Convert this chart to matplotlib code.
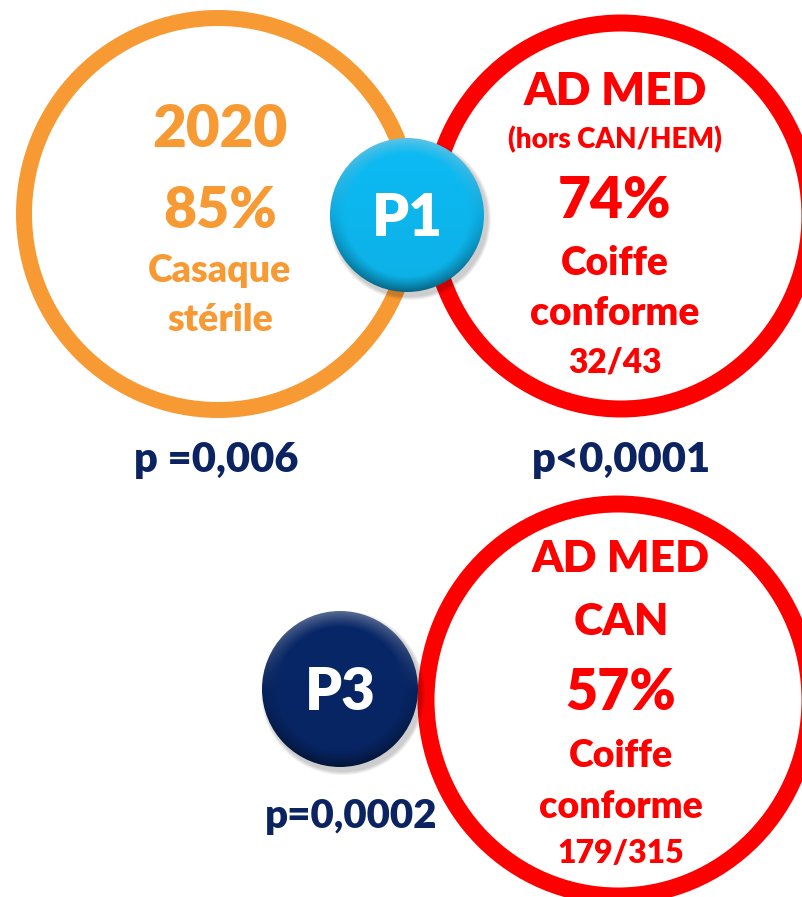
import numpy as np
import matplotlib
matplotlib.use("Agg")
import matplotlib.pyplot as plt
from matplotlib.patches import Ellipse, Circle

# ---- data ----
circle_titles = ["2020", "AD MED", "AD MED"]
circle_subtitles = ["", "(hors CAN/HEM)", "CAN"]
percentages = [85, 74, 57]
descriptions = [["Casaque", "stérile"], ["Coiffe", "conforme"], ["Coiffe", "conforme"]]
fractions = ["", "32/43", "179/315"]
p_values = ["p =0,006", "p<0,0001", "p=0,0002"]
badge_labels = ["P1", "P3"]

ORANGE = "#F79A33"
RED = "#FF0000"
NAVY = "#0B2461"
LIGHTBLUE = (0.05, 0.72, 0.94)
DARKBLUE = (0.03, 0.15, 0.40)
FONT = "Lato"
W = "heavy"
PT = 0.72  # points per pixel at dpi 100

fig = plt.figure(figsize=(8.02, 8.97), dpi=100)
ax = fig.add_axes([0, 0, 1, 1])
ax.set_xlim(0, 802)
ax.set_ylim(897, 0)
ax.axis("off")

# rings
ax.add_patch(Ellipse((218, 214), 2 * 194, 2 * 196, fill=False, ec=ORANGE, lw=16 * PT, zorder=1))
ax.add_patch(Ellipse((621, 216), 2 * 189, 2 * 193, fill=False, ec=RED, lw=17 * PT, zorder=2))
ax.add_patch(Ellipse((618, 700), 2 * 192, 2 * 196, fill=False, ec=RED, lw=17 * PT, zorder=2))


def txt(x, y, s, size, color, weight=W):
    ax.text(x, y, s, ha="center", va="baseline", fontsize=size, color=color,
            fontweight=weight, family=FONT, zorder=10)


# orange circle text
txt(220, 147, circle_titles[0], 42, ORANGE)
txt(220, 228, f"{percentages[0]}%", 41, ORANGE)
txt(220, 282, descriptions[0][0], 27, ORANGE)
txt(220, 331, descriptions[0][1], 27, ORANGE)

# red circle 1
txt(615, 105, circle_titles[1], 33, RED)
txt(615, 148, circle_subtitles[1], 20, RED)
txt(615, 218, f"{percentages[1]}%", 41, RED)
txt(615, 275, descriptions[1][0], 28, RED)
txt(615, 325, descriptions[1][1], 28, RED)
txt(615, 372, fractions[1], 24, RED)

# red circle 2
txt(621, 572, circle_titles[2], 32, RED)
txt(621, 635, circle_subtitles[2], 32, RED)
txt(621, 710, f"{percentages[2]}%", 40, RED)
txt(621, 767, descriptions[2][0], 27, RED)
txt(621, 818, descriptions[2][1], 27, RED)
txt(621, 863, fractions[2], 23, RED)

# p-values
txt(216, 472, p_values[0], 30, NAVY)
txt(621, 472, p_values[1], 30, NAVY)
txt(351, 828, p_values[2], 29, NAVY)


def ball(cx, cy, r, base, label, z):
    # soft shadow
    for k in range(4):
        ax.add_patch(Circle((cx + 3, cy + 4), r + 4 - k, fc="black", ec="none", alpha=0.05, zorder=z))
    n = 300
    yy, xx = np.mgrid[-1:1:n * 1j, -1:1:n * 1j]
    rr = np.sqrt(xx ** 2 + yy ** 2)
    base = np.array(base)
    img = np.ones((n, n, 3)) * base
    edge = np.clip((rr - 0.80) / 0.20, 0, 1)
    light = np.clip(-yy, 0, 1) * edge * 0.35
    dark = np.clip(yy, 0, 1) * edge * 0.35 + edge * 0.08
    img = img + (1 - img) * light[..., None]
    img = img * (1 - dark[..., None])
    img = img * (1.02 - 0.06 * (yy[..., None] + 1) / 2)
    img = np.clip(img, 0, 1)
    im = ax.imshow(img, extent=(cx - r, cx + r, cy + r, cy - r), zorder=z + 1,
                   interpolation="bilinear")
    clip = Circle((cx, cy), r, transform=ax.transData)
    im.set_clip_path(clip)
    ax.text(cx, cy + 21, label, ha="center", va="baseline", fontsize=42, color="white",
            fontweight=W, family=FONT, zorder=z + 2)


ball(407, 215, 77, LIGHTBLUE, badge_labels[0], 5)
ball(340, 689, 78, DARKBLUE, badge_labels[1], 5)

ax.set_xlim(0, 802)
ax.set_ylim(897, 0)
fig.savefig("out.png", dpi=100)
